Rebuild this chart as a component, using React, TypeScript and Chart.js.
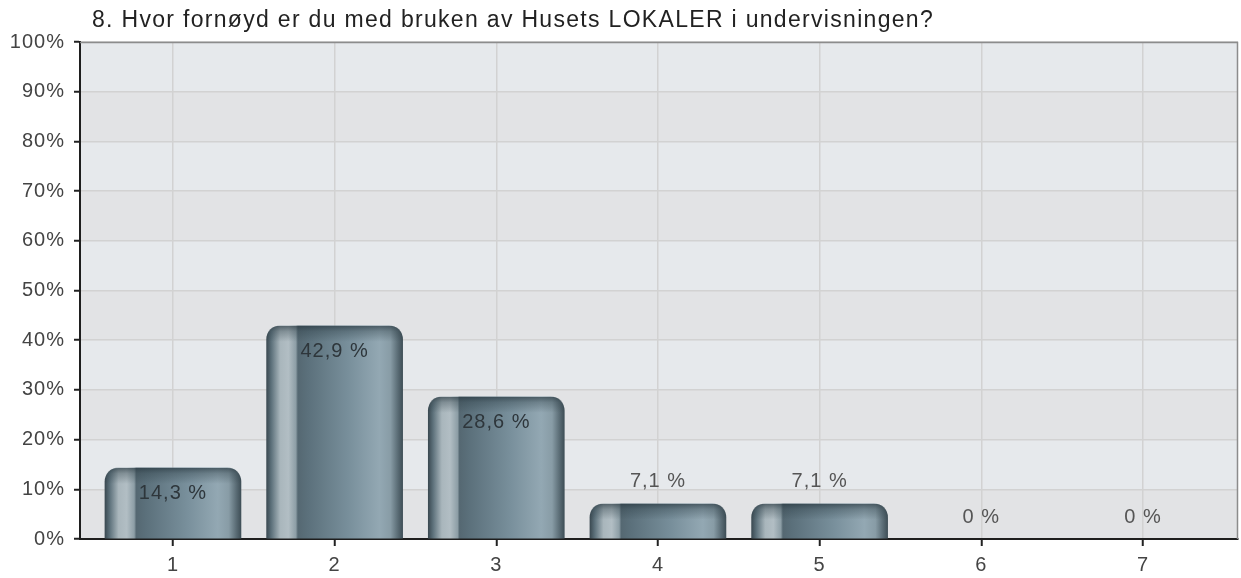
import React, { useEffect, useRef } from "react";
import { Chart, registerables } from "chart.js";

Chart.register(...registerables);

const title = "8. Hvor fornøyd er du med bruken av Husets LOKALER i undervisningen?";
const categories = ["1", "2", "3", "4", "5", "6", "7"];
const values = [14.3, 42.9, 28.6, 7.1, 7.1, 0, 0];
const valueLabels = ["14,3 %", "42,9 %", "28,6 %", "7,1 %", "7,1 %", "0 %", "0 %"];

const FONT = '"Liberation Sans", Arial, sans-serif';
const BAR_W = 136;

const bandPlugin = {
  id: "bands",
  beforeDraw(chart: any) {
    const { ctx, chartArea: a, scales } = chart;
    (ctx as any).letterSpacing = "1px";
    const y = scales.y;
    ctx.save();
    ctx.fillStyle = "#e3e4e6";
    ctx.fillRect(a.left, a.top, a.right - a.left, a.bottom - a.top);
    for (let v = 0; v < 100; v += 10) {
      const light = Math.round(v / 10) % 2 === 1;
      ctx.fillStyle = light ? "#e6e9ec" : "#e2e3e5";
      const t = y.getPixelForValue(v + 10);
      const b = y.getPixelForValue(v);
      ctx.fillRect(a.left, t, a.right - a.left, b - t);
    }
    ctx.restore();
  },
};

const overlayPlugin = {
  id: "overlay",
  afterDatasetsDraw(chart: any) {
    const { ctx } = chart;
    const meta = chart.getDatasetMeta(0);
    meta.data.forEach((el: any, i: number) => {
      const { x, y, base, width } = el.getProps(["x", "y", "base", "width"], true);
      const h = base - y;
      if (h > 1) {
        const l = x - width / 2;
        const r = Math.min(14, h, width / 2);
        ctx.save();
        ctx.beginPath();
        ctx.moveTo(l, base);
        ctx.lineTo(l, y + r);
        ctx.quadraticCurveTo(l, y, l + r, y);
        ctx.lineTo(l + width - r, y);
        ctx.quadraticCurveTo(l + width, y, l + width, y + r);
        ctx.lineTo(l + width, base);
        ctx.closePath();
        ctx.clip();
        const g = ctx.createLinearGradient(0, y, 0, y + 16);
        g.addColorStop(0, "rgba(35,50,58,0.65)");
        g.addColorStop(0.35, "rgba(45,62,70,0.35)");
        g.addColorStop(1, "rgba(45,62,70,0)");
        ctx.fillStyle = g;
        ctx.fillRect(l, y, width, 16);
        ctx.restore();
      }
      ctx.save();
      (ctx as any).letterSpacing = "1px";
      ctx.font = `20px ${FONT}`;
      ctx.textAlign = "center";
      ctx.textBaseline = "middle";
      ctx.fillStyle = h > 45 ? "#2e363b" : "#555555";
      const ty = h > 45 ? y + 26 : y - 22;
      ctx.fillText(valueLabels[i], x, ty);
      ctx.restore();
    });
  },
  afterDraw(chart: any) {
    const { ctx, chartArea: a } = chart;
    ctx.save();
    ctx.strokeStyle = "#8c8c8c";
    ctx.lineWidth = 1.5;
    ctx.beginPath();
    ctx.moveTo(a.left, a.top + 0.5);
    ctx.lineTo(a.right - 0.5, a.top + 0.5);
    ctx.lineTo(a.right - 0.5, a.bottom);
    ctx.stroke();
    ctx.font = `23px ${FONT}`;
    (ctx as any).letterSpacing = "0px";
    const w = ctx.measureText(title).width;
    const sp = Math.max(0, (841 - w) / (title.length - 1));
    (ctx as any).letterSpacing = `${sp.toFixed(2)}px`;
    ctx.fillStyle = "#222222";
    ctx.textBaseline = "middle";
    ctx.textAlign = "left";
    ctx.fillText(title, 92, 21);
    ctx.restore();
  },
};

function barFill(c: any) {
  const chart = c.chart;
  if (c.raw && c.raw.y === 0) return "rgba(0,0,0,0)";
  const xs = chart.scales && chart.scales.x;
  if (!xs || c.dataIndex === undefined) return "#6f8793";
  const cx = xs.getPixelForValue(c.dataIndex + 1);
  if (!Number.isFinite(cx)) return "#6f8793";
  const l = cx - BAR_W / 2;
  const g = chart.ctx.createLinearGradient(l, 0, l + BAR_W, 0);
  g.addColorStop(0, "#3b4a52");
  g.addColorStop(0.035, "#5d717b");
  g.addColorStop(0.1, "#a9b6bc");
  g.addColorStop(0.16, "#b2bec4");
  g.addColorStop(0.215, "#8d9ea6");
  g.addColorStop(0.23, "#556872");
  g.addColorStop(0.3, "#5b707b");
  g.addColorStop(0.6, "#788f9b");
  g.addColorStop(0.83, "#93a8b3");
  g.addColorStop(0.91, "#889ca6");
  g.addColorStop(0.965, "#5a6c75");
  g.addColorStop(1, "#3f4f57");
  return g;
}

export default function App() {
  const ref = useRef<HTMLCanvasElement | null>(null);
  useEffect(() => {
    document.body.style.margin = "0";
    if (!ref.current) return;
    const chart = new Chart(ref.current, {
      type: "bar",
      data: {
        datasets: [
          {
            data: values.map((v, i) => ({ x: i + 1, y: v })),
            backgroundColor: barFill as any,
            barThickness: BAR_W,
            borderWidth: 0,
            borderRadius: { topLeft: 14, topRight: 14, bottomLeft: 0, bottomRight: 0 },
          },
        ],
      },
      options: {
        responsive: false,
        animation: false,
        layout: { padding: { top: 42, right: 3, left: 0, bottom: 0 } },
        plugins: { legend: { display: false }, tooltip: { enabled: false } },
        scales: {
          x: {
            type: "linear",
            offset: false,
            min: 0.425,
            max: 7.588,
            afterBuildTicks: (scale: any) => {
              scale.ticks = categories.map((_, i) => ({ value: i + 1 }));
            },
            afterFit: (scale: any) => {
              scale.height = 39;
            },
            ticks: {
              callback: (v: any) => categories[Math.round(Number(v)) - 1],
              font: { family: FONT, size: 20 },
              color: "#444444",
              padding: 7,
              maxRotation: 0,
              autoSkip: false,
            },
            grid: {
              offset: false,
              color: "#d2d2d2",
              lineWidth: 1.5,
              tickColor: "#222222",
              tickLength: 7,
              tickWidth: 2,
            },
            border: { color: "#1e1e1e", width: 2 },
          },
          y: {
            min: 0,
            max: 100,
            afterFit: (scale: any) => {
              scale.width = 80;
            },
            ticks: {
              stepSize: 10,
              callback: (v: any) => `${v}%`,
              font: { family: FONT, size: 20 },
              color: "#444444",
              padding: 9,
            },
            grid: {
              color: "#d2d2d2",
              lineWidth: 1.5,
              tickColor: "#222222",
              tickLength: 6,
              tickWidth: 2,
            },
            border: { color: "#1e1e1e", width: 2 },
          },
        },
      },
      plugins: [bandPlugin, overlayPlugin],
    });
    return () => chart.destroy();
  }, []);
  return (
    <div style={{ width: 1241, height: 578, background: "#ffffff" }}>
      <canvas ref={ref} width={1241} height={578} />
    </div>
  );
}
